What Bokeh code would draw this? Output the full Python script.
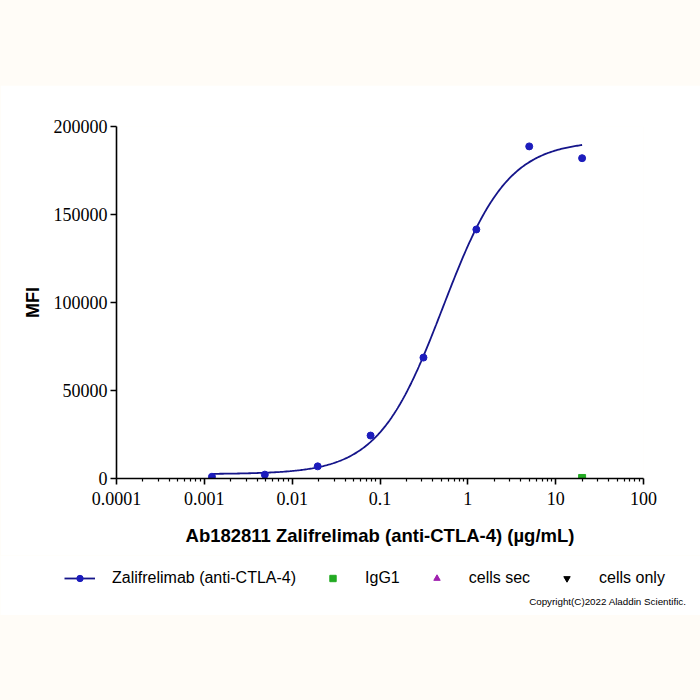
import numpy as np
from bokeh.plotting import figure
from bokeh.models import (Range1d, FixedTicker, CustomJSTickFormatter, Legend, LegendItem,
                          Label, Spacer)
from bokeh.layouts import column, row
from bokeh.embed import file_html
from bokeh.resources import INLINE

# ---- data ----
conc = [20, 5, 1.25, 0.3125, 0.078125, 0.01953125, 0.0048828125, 0.001220703125]
mfi = [182000, 188700, 141500, 68700, 24400, 6900, 2200, 1000]
igg1_conc = [20]
igg1_mfi = [300]
# 4PL fit parameters of the drawn curve (bottom, top, EC50, Hill)
fit_bottom, fit_top, fit_ec50, fit_hill = 2500, 192000, 0.52, 1.18
x_ticks = [0.0001, 0.001, 0.01, 0.1, 1, 10, 100]
y_ticks = [0, 50000, 100000, 150000, 200000]
legend_labels = ["Zalifrelimab (anti-CTLA-4)", "IgG1", "cells sec", "cells only"]

CREAM = "#fffcf7"
DOT = "#1c1cbc"
LINE = "#15158a"
GREEN = "#22aa22"
PURPLE = "#a020b0"

p = figure(width=700, height=470, x_axis_type="log", output_backend="svg",
           toolbar_location=None,
           x_range=Range1d(1e-4, 100), y_range=Range1d(0, 200000),
           min_border_left=116, min_border_right=57, min_border_top=41, min_border_bottom=77,
           border_fill_color="white", background_fill_color="white", outline_line_color=None)
p.grid.visible = False

# fitted curve
xc = np.logspace(np.log10(min(conc)), np.log10(max(conc)), 300)
yc = fit_bottom + (fit_top - fit_bottom) / (1 + (fit_ec50 / xc) ** fit_hill)
p.line(xc, yc, line_color=LINE, line_width=1.8)
p.scatter(conc, mfi, size=7, color=DOT)
p.scatter(igg1_conc, igg1_mfi, marker="square", size=7, color=GREEN)

# axes
xa = p.xaxis[0]
xa.ticker = FixedTicker(ticks=x_ticks,
                        minor_ticks=[k * t for t in x_ticks[:-1] for k in range(2, 10)])
xa.formatter = CustomJSTickFormatter(code="return Number(tick.toPrecision(6)).toString();")
ya = p.yaxis[0]
ya.ticker = FixedTicker(ticks=y_ticks)
ya.formatter = CustomJSTickFormatter(code="return Number(tick).toFixed(0);")
for ax in (xa, ya):
    ax.axis_line_width = 1.6
    ax.axis_line_color = "black"
    ax.major_tick_line_width = 1.6
    ax.major_tick_out = 6
    ax.major_tick_in = 0
    ax.major_label_text_font = "Liberation Serif"
    ax.major_label_text_font_size = "18px"
    ax.major_label_text_color = "black"
    ax.axis_label_text_font = "Liberation Sans"
    ax.axis_label_text_font_style = "bold"
    ax.axis_label_text_color = "black"
xa.axis_label_text_font_size = "18.5px"
ya.axis_label_text_font_size = "18px"
xa.minor_tick_out = 3
xa.minor_tick_in = 0
xa.minor_tick_line_width = 1.2
ya.minor_tick_line_color = None
xa.major_label_standoff = 7
ya.major_label_standoff = 3
xa.axis_label = "Ab182811 Zalifrelimab (anti-CTLA-4) (µg/mL)"
ya.axis_label = "MFI"
xa.axis_label_standoff = 17
ya.axis_label_standoff = 8

# legend strip (its own canvas, frame = whole strip, 1 unit = 1 px)
lg = figure(width=700, height=60, output_backend="svg", toolbar_location=None,
            x_range=Range1d(0, 700), y_range=Range1d(0, 60),
            x_axis_location=None, y_axis_location=None,
            min_border=0, border_fill_color="white", background_fill_color="white",
            outline_line_color=None)
lg.grid.visible = False
off = [-1000]  # legend proxies kept outside the strip's visible range
l_line = lg.line(off, off, line_color=LINE, line_width=1.8)
l_dot = lg.scatter(off, off, size=5, color=DOT)
l_igg = lg.scatter(off, off, marker="square", size=6, color=GREEN)
l_sec = lg.scatter(off, off, marker="triangle", size=6, color=PURPLE)
l_only = lg.scatter(off, off, marker="inverted_triangle", size=6, color="black")

legend = Legend(items=[
    LegendItem(label=legend_labels[0], renderers=[l_line, l_dot]),
    LegendItem(label=legend_labels[1], renderers=[l_igg]),
    LegendItem(label=legend_labels[2], renderers=[l_sec]),
    LegendItem(label=legend_labels[3], renderers=[l_only]),
], location=(64, 28), orientation="horizontal", glyph_width=31, glyph_height=16,
    label_standoff=17, spacing=21, padding=0, margin=0, border_line_color=None,
    background_fill_alpha=0, label_text_font="Liberation Sans", label_text_font_size="16px",
    label_text_color="black")
lg.add_layout(legend)

lg.add_layout(Label(x=686, y=14, text="Copyright(C)2022 Aladdin Scientific.",
                    text_align="right", text_baseline="middle",
                    text_font="Liberation Sans", text_font_size="9.8px",
                    text_color="black"))

top = Spacer(width=700, height=85, margin=0, styles={"background-color": CREAM})
bottom = Spacer(width=700, height=85, margin=0, styles={"background-color": CREAM})
layout = column(top, row(p, margin=0), row(lg, margin=0), bottom, spacing=0, margin=0,
                styles={"background-color": CREAM})

open("out.html", "w").write(file_html(layout, INLINE))
